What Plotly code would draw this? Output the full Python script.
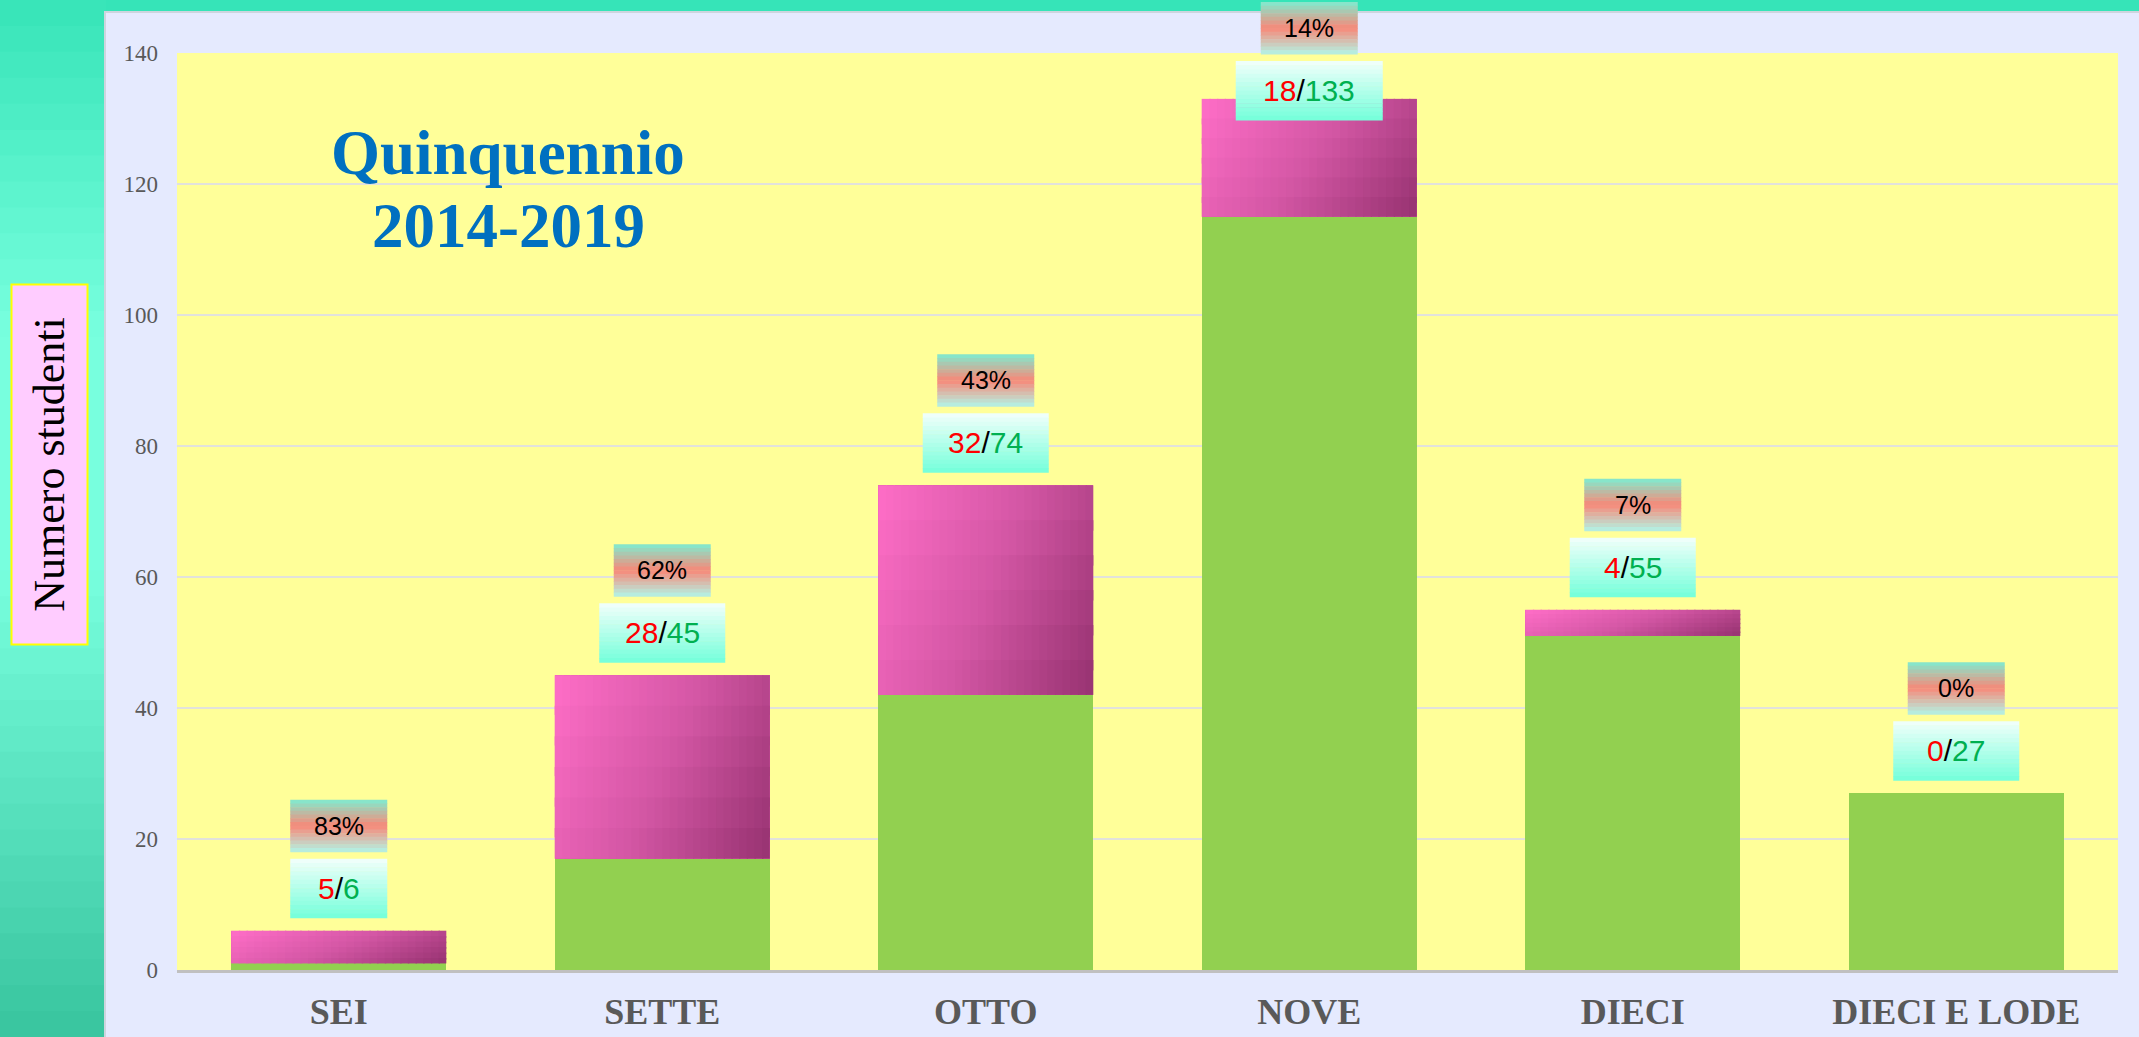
import plotly.graph_objects as go

# ---------------- data ----------------
categories = ["SEI", "SETTE", "OTTO", "NOVE", "DIECI", "DIECI E LODE"]
totals = [6, 45, 74, 133, 55, 27]
pink_part = [5, 28, 32, 18, 4, 0]
pct_labels = ["83%", "62%", "43%", "14%", "7%", "0%"]
y_ticks = [0, 20, 40, 60, 80, 100, 120, 140]
title_lines = ["Quinquennio", "2014-2019"]
y_title = "Numero studenti"

green_part = [t - p for t, p in zip(totals, pink_part)]

# ---------------- geometry ----------------
FW, FH = 2139, 1037
L, T = 177, 53
W, H = 1941, 917
R = FW - L - W
B = FH - T - H
YMAX = 140
PX = H / YMAX
BARGAP = 0.335
BW = 1 - BARGAP


def px2x(px):
    return (px - L) / W


def py2y(py):
    return (T + H - py) / H


def hx(c):
    c = c.lstrip("#")
    return [int(c[i:i + 2], 16) for i in (0, 2, 4)]


def mix(c1, c2, t):
    a, b = hx(c1), hx(c2)
    return "rgb(%d,%d,%d)" % tuple(round(a[i] + (b[i] - a[i]) * t) for i in range(3))


def grad(stops, t):
    t = min(max(t, 0.0), 1.0)
    for (t0, c0), (t1, c1) in zip(stops[:-1], stops[1:]):
        if t0 <= t <= t1:
            return mix(c0, c1, (t - t0) / (t1 - t0) if t1 > t0 else 0)
    return mix(stops[-1][1], stops[-1][1], 0)


shapes = []

# left teal strip with vertical gradient
strip_stops = [(0, "#36e4b8"), (0.32, "#78ffde"), (0.55, "#78ffde"), (1.0, "#38c49e")]
NB = 40
for k in range(NB):
    y0p = FH * k / NB
    y1p = FH * (k + 1) / NB + 1
    shapes.append(dict(type="rect", xref="paper", yref="paper", layer="below",
                       x0=px2x(0), x1=px2x(106), y0=py2y(y1p), y1=py2y(y0p),
                       fillcolor=grad(strip_stops, (k + 0.5) / NB), line_width=0))

# lavender panel
shapes.append(dict(type="rect", xref="paper", yref="paper", layer="below",
                   x0=px2x(105), x1=px2x(FW + 5), y0=py2y(FH + 5), y1=py2y(12),
                   fillcolor="#e5eafe", line=dict(color="#cdd5de", width=2)))
# yellow plot area
shapes.append(dict(type="rect", xref="paper", yref="paper", layer="below",
                   x0=0, x1=1, y0=0, y1=1, fillcolor="#ffff99", line_width=0))

# ---------------- gradient overlay on the pink segments ----------------
pink_stops = [(0, "#ff6ec7"), (0.5, "#d457a5"), (1.0, "#963270")]
GU, GV = 28, 6
for i in range(len(categories)):
    if pink_part[i] <= 0:
        continue
    yb, yt = green_part[i], totals[i]
    dy = (yt - yb) / GV
    for a in range(GU):
        for b in range(GV):
            u = (a + 0.5) / GU
            v = (b + 0.5) / GV
            xa = i - BW / 2 + BW * a / GU
            xb = i - BW / 2 + BW * (a + 1) / GU
            ya = yt - dy * b
            yc = yt - dy * (b + 1)
            shapes.append(dict(type="rect", xref="x", yref="y", layer="above",
                               x0=xa, x1=xb + (0.004 if a < GU - 1 else 0),
                               y0=yc - (0.3 * dy if b < GV - 1 else 0), y1=ya,
                               fillcolor=grad(pink_stops, 0.72 * u + 0.28 * v), line_width=0))

# ---------------- label boxes (gradient, pixel-sized, anchored at bar tops) ----------------
FRAC = (13, 72)
PCT = (79, 131)
MAX_ABOVE = 51
frac_stops = [(0, "#f2fffb"), (1.0, "#74ffda")]  # top -> bottom
pct_stops = [(0, "#7fecd0"), (0.5, "#f88878"), (1.0, "#b2f4e6")]
NBX = 14
annotations = []


def frac_width(s):
    n = len(s)
    return 97 if n <= 3 else (126 if n <= 5 else 147)


for i, cat in enumerate(categories):
    tot = totals[i]
    maxtop = (YMAX - tot) * PX + MAX_ABOVE
    shift = max(0, PCT[1] - maxtop)
    ftxt = "%d/%d" % (pink_part[i], tot)
    for (b0, b1), stops, wbox in (((FRAC[0] - shift, FRAC[1] - shift), frac_stops, frac_width(ftxt)),
                                  ((PCT[0] - shift, PCT[1] - shift), pct_stops, 97)):
        hgt = b1 - b0
        for k in range(NBX):
            ya = b1 - hgt * k / NBX
            yb = b1 - hgt * (k + 1) / NBX
            shapes.append(dict(type="rect", xref="x", yref="paper", layer="above",
                               xsizemode="pixel", ysizemode="pixel",
                               xanchor=i, yanchor=tot / YMAX,
                               x0=-wbox / 2, x1=wbox / 2, y0=yb - 0.5, y1=ya,
                               fillcolor=grad(stops, (k + 0.5) / NBX), line_width=0))
    annotations.append(dict(
        x=cat, y=tot, xref="x", yref="y", showarrow=False,
        yanchor="middle", yshift=(FRAC[0] + FRAC[1]) / 2 - shift,
        text='<span style="color:#ff0000">%d</span><span style="color:#000000">/</span>'
             '<span style="color:#00b050">%d</span>' % (pink_part[i], tot),
        font=dict(family="Arial, Liberation Sans, sans-serif", size=30, color="#000000")))
    annotations.append(dict(
        x=cat, y=tot, xref="x", yref="y", showarrow=False,
        yanchor="middle", yshift=(PCT[0] + PCT[1]) / 2 - shift,
        text=pct_labels[i],
        font=dict(family="Arial, Liberation Sans, sans-serif", size=25, color="#000000")))

# title (two lines)
for line, ypix in zip(title_lines, (153, 226)):
    annotations.append(dict(
        x=px2x(508), y=py2y(ypix), xref="paper", yref="paper", showarrow=False,
        xanchor="center", yanchor="middle", text="<b>%s</b>" % line,
        font=dict(family="Liberation Serif, Times New Roman, serif", size=63, color="#0070c0")))

# y-axis title box
annotations.append(dict(
    x=px2x(49), y=py2y(464.5), xref="paper", yref="paper", showarrow=False,
    xanchor="center", yanchor="middle", textangle=-90, text=y_title,
    width=358, height=74, bgcolor="#ffccff", bordercolor="#ffff00", borderwidth=2, borderpad=0,
    font=dict(family="Liberation Serif, Times New Roman, serif", size=44, color="#000000")))

fig = go.Figure()
fig.add_trace(go.Bar(x=categories, y=green_part, marker=dict(color="#92d050", line_width=0),
                     name="", hoverinfo="skip"))
fig.add_trace(go.Bar(x=categories, y=pink_part, marker=dict(color="#da5aaa", line_width=0),
                     name="", hoverinfo="skip"))

fig.update_layout(
    width=FW, height=FH, autosize=False,
    margin=dict(l=L, r=R, t=T, b=B, pad=0, autoexpand=False),
    paper_bgcolor="#36e4b8", plot_bgcolor="rgba(0,0,0,0)",
    barmode="stack", bargap=BARGAP, showlegend=False,
    shapes=shapes, annotations=annotations,
)
fig.update_xaxes(
    automargin=False,
    showgrid=False, showline=True, linecolor="#c0c0c0", linewidth=3,
    ticks="", ticklabelstandoff=8,
    tickfont=dict(family="Liberation Serif, Times New Roman, serif", size=36, color="#595959"),
    tickprefix="<b>", ticksuffix="</b>",
)
fig.update_yaxes(
    automargin=False,
    range=[0, YMAX], tickvals=y_ticks, showgrid=True, gridcolor="#e2e2dc", gridwidth=2,
    zeroline=False, showline=False, ticks="", ticklabelstandoff=18,
    tickfont=dict(family="Liberation Serif, Times New Roman, serif", size=23, color="#595959"),
)

fig.write_html(
    "out.html",
    config={"displayModeBar": False},
    post_script="document.body.style.margin='0';document.body.style.overflow='hidden';",
)
